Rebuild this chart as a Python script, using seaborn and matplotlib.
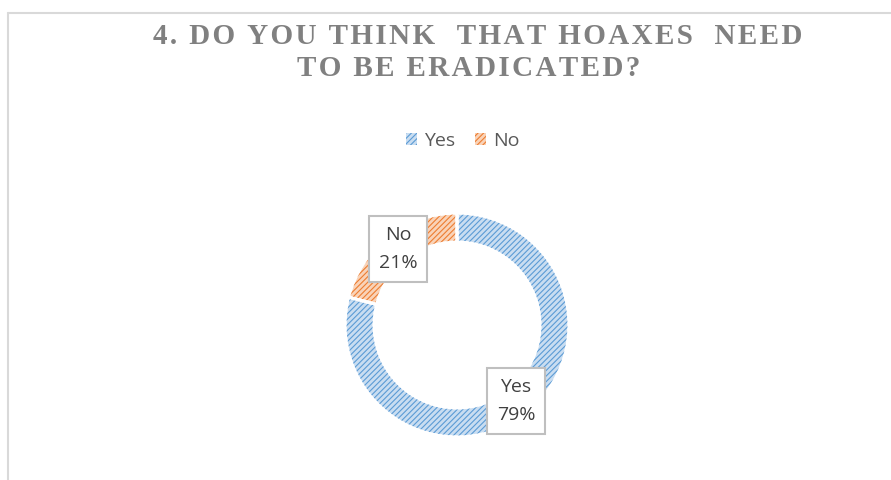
import matplotlib
matplotlib.use("Agg")
import matplotlib.pyplot as plt
import seaborn as sns
import numpy as np
from matplotlib.patches import Patch
from matplotlib.lines import Line2D

categories = ["Yes", "No"]
values = [79, 21]
title_lines = ["4. DO YOU THINK  THAT HOAXES  NEED", "TO BE ERADICATED?"]

sns.set_theme(style="white")
plt.rcParams["font.family"] = ["Open Sans", "DejaVu Sans"]
plt.rcParams["hatch.linewidth"] = 0.8

line_colors = ["#5B9BD5", "#ED7D31"]
fill_colors = ["#C9DDF1", "#F9D3B8"]

W, H = 891, 480
fig = plt.figure(figsize=(W / 100, H / 100), dpi=100)
fig.patch.set_facecolor("white")

# outer chart frame (partially cropped)
fig.add_artist(Line2D([8 / W, 1.02], [1 - 13 / H, 1 - 13 / H], transform=fig.transFigure,
                      color="#d9d9d9", lw=1.5))
fig.add_artist(Line2D([8 / W, 8 / W], [1 - 13 / H, -0.02], transform=fig.transFigure,
                      color="#d9d9d9", lw=1.5))

# title (letter-spaced with hair spaces)
def tracked(s):
    return "\u200a".join(s)

fig.text(478 / W, 1 - 36 / H, tracked(title_lines[0]), ha="center", va="center",
         family=["Liberation Serif", "DejaVu Serif"], weight="bold", size=21, color="#808080")
fig.text(469 / W, 1 - 69 / H, tracked(title_lines[1]), ha="center", va="center",
         family=["Liberation Serif", "DejaVu Serif"], weight="bold", size=21, color="#808080")

cx, cy, R = 457, 325, 112
ax = fig.add_axes([(cx - R) / W, (H - cy - R) / H, 2 * R / W, 2 * R / H])

ring = 0.26
wedges, _ = ax.pie(values, startangle=90, counterclock=False, radius=1,
                   colors=fill_colors,
                   wedgeprops=dict(width=ring, edgecolor="white", linewidth=2.2))
hw, _ = ax.pie(values, startangle=90, counterclock=False, radius=1,
               colors=["none", "none"],
               wedgeprops=dict(width=ring, linewidth=0))
for w, c in zip(hw, line_colors):
    w.set_facecolor("none")
    w.set_edgecolor(c)
    w.set_hatch("//////")
    w.set_linewidth(0)
ax.pie(values, startangle=90, counterclock=False, radius=1,
       colors=["none", "none"],
       wedgeprops=dict(width=ring, edgecolor="white", linewidth=2.2, fill=False))

ax.set_xlim(-1, 1)
ax.set_ylim(-1, 1)
ax.set_aspect("equal")
ax.axis("off")

for w, cat, v in zip(wedges, categories, values):
    ang = np.deg2rad((w.theta1 + w.theta2) / 2)
    r = 0.86
    ax.text(r * np.cos(ang), r * np.sin(ang), f"{cat}\n{v}%", ha="center", va="center",
            size=14, color="#404040", linespacing=1.7,
            bbox=dict(boxstyle="square,pad=0.5", fc="white", ec="#bfbfbf", lw=1.5))

# legend
handles = [Patch(facecolor=fc, edgecolor=lc, hatch="//////", linewidth=0)
           for fc, lc in zip(fill_colors, line_colors)]
fig.legend(handles, categories, loc="center", bbox_to_anchor=(463 / W, 1 - 141 / H),
           ncol=2, frameon=False, fontsize=14, labelcolor="#595959",
           handlelength=0.55, handleheight=0.55, handletextpad=0.4, columnspacing=1.0)

fig.savefig("out.png", dpi=100, facecolor="white")
